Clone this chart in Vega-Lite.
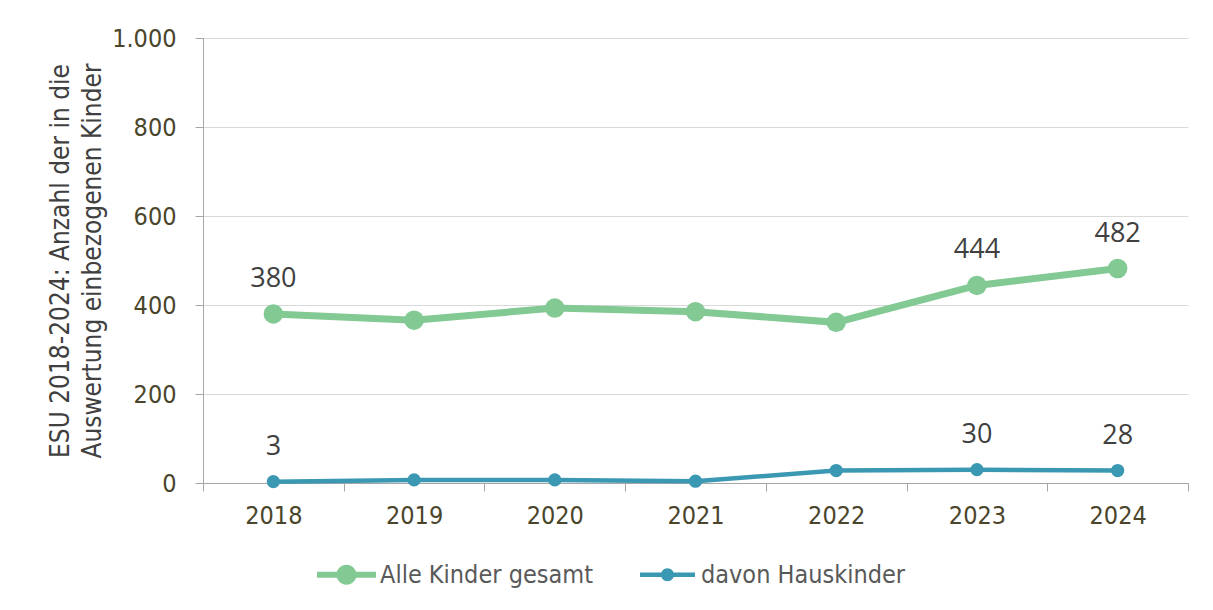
{
  "$schema": "https://vega.github.io/schema/vega-lite/v6.json",
  "width": 985,
  "height": 445,
  "autosize": "none",
  "padding": {"left": 203, "top": 38, "right": 25, "bottom": 127},
  "background": "white",
  "config": {"view": {"stroke": null}},
  "data": {
    "values": [
      {"year": "2018", "series": "Alle Kinder gesamt", "value": 380},
      {"year": "2019", "series": "Alle Kinder gesamt", "value": 366},
      {"year": "2020", "series": "Alle Kinder gesamt", "value": 393},
      {"year": "2021", "series": "Alle Kinder gesamt", "value": 385},
      {"year": "2022", "series": "Alle Kinder gesamt", "value": 361},
      {"year": "2023", "series": "Alle Kinder gesamt", "value": 444},
      {"year": "2024", "series": "Alle Kinder gesamt", "value": 482},
      {"year": "2018", "series": "davon Hauskinder", "value": 3},
      {"year": "2019", "series": "davon Hauskinder", "value": 7},
      {"year": "2020", "series": "davon Hauskinder", "value": 7},
      {"year": "2021", "series": "davon Hauskinder", "value": 4},
      {"year": "2022", "series": "davon Hauskinder", "value": 28},
      {"year": "2023", "series": "davon Hauskinder", "value": 30},
      {"year": "2024", "series": "davon Hauskinder", "value": 28}
    ]
  },
  "encoding": {
    "x": {
      "field": "year",
      "type": "ordinal",
      "bandPosition": 0.5,
      "scale": {"type": "band", "paddingInner": 0, "paddingOuter": 0},
      "axis": {
        "title": null,
        "labelAngle": 0,
        "tickBand": "extent",
        "labelFont": "DejaVu Sans Condensed, DejaVu Sans",
        "labelFontSize": 25,
        "labelColor": "#4a452b",
        "labelPadding": 12,
        "tickSize": 8,
        "tickColor": "#a6a6a6",
        "domainColor": "#a6a6a6",
        "grid": false
      }
    },
    "y": {
      "field": "value",
      "type": "quantitative",
      "scale": {"domain": [0, 1000], "nice": false},
      "axis": {
        "values": [0, 200, 400, 600, 800, 1000],
        "labelExpr": "replace(format(datum.value, ','), ',', '.')",
        "labelFont": "DejaVu Sans Condensed, DejaVu Sans",
        "labelFontSize": 25,
        "labelColor": "#4a452b",
        "labelPadding": 19,
        "tickSize": 8,
        "tickColor": "#a6a6a6",
        "domainColor": "#a6a6a6",
        "grid": true,
        "gridColor": "#d9d9d9",
        "title": ["ESU 2018-2024: Anzahl der in die", "Auswertung einbezogenen Kinder"],
        "titleFont": "DejaVu Sans Condensed, DejaVu Sans",
        "titleFontSize": 26,
        "titleFontWeight": "normal",
        "titleColor": "#404040",
        "titleLineHeight": 32,
        "titlePadding": 6
      }
    }
  },
  "layer": [
    {
      "transform": [{"filter": "datum.series === 'Alle Kinder gesamt'"}],
      "mark": {"type": "line", "color": "#82c993", "strokeWidth": 7}
    },
    {
      "transform": [{"filter": "datum.series === 'davon Hauskinder'"}],
      "mark": {"type": "line", "color": "#3a98b3", "strokeWidth": 4.5}
    },
    {
      "transform": [{"filter": "datum.series === 'Alle Kinder gesamt'"}],
      "mark": {"type": "point", "filled": true, "opacity": 1, "color": "#82c993", "size": 380, "strokeWidth": 0}
    },
    {
      "transform": [{"filter": "datum.series === 'davon Hauskinder'"}],
      "mark": {"type": "point", "filled": true, "opacity": 1, "color": "#3a98b3", "size": 177, "strokeWidth": 0}
    },
    {
      "transform": [{"filter": "datum.value < 0"}],
      "mark": {"type": "point", "filled": true, "opacity": 1, "strokeWidth": 0},
      "encoding": {
        "color": {
          "field": "series",
          "type": "nominal",
          "scale": {"domain": ["Alle Kinder gesamt", "davon Hauskinder"], "range": ["#82c993", "#3a98b3"]},
          "legend": {
            "title": null,
            "orient": "none",
            "direction": "horizontal",
            "legendX": 111,
            "legendY": 524,
            "symbolSize": 400,
            "symbolOpacity": 1,
            "symbolStrokeWidth": 0,
            "symbolOffset": 20,
            "labelOffset": 21,
            "labelLimit": 500,
            "labelFont": "DejaVu Sans Condensed, DejaVu Sans",
            "labelFontSize": 25,
            "labelColor": "#595959",
            "columnPadding": 42,
            "padding": 0
          }
        },
        "shape": {
          "field": "series",
          "type": "nominal",
          "scale": {
            "domain": ["Alle Kinder gesamt", "davon Hauskinder"],
            "range": [
              "M-2.95,-0.3 L2.95,-0.3 L2.95,0.3 L-2.95,0.3 Z M-1,0 A1,1 0 1,1 1,0 A1,1 0 1,1 -1,0 Z",
              "M-2.75,-0.22 L2.75,-0.22 L2.75,0.22 L-2.75,0.22 Z M-0.65,0 A0.65,0.65 0 1,1 0.65,0 A0.65,0.65 0 1,1 -0.65,0 Z"
            ]
          }
        }
      }
    },
    {
      "transform": [{"filter": {"field": "year", "oneOf": ["2018", "2023", "2024"]}}],
      "mark": {
        "type": "text",
        "dy": -27,
        "baseline": "alphabetic",
        "font": "Open Sans",
        "fontSize": 27,
        "color": "#404040"
      },
      "encoding": {
        "text": {"field": "value", "type": "quantitative", "format": "d"}
      }
    }
  ]
}
